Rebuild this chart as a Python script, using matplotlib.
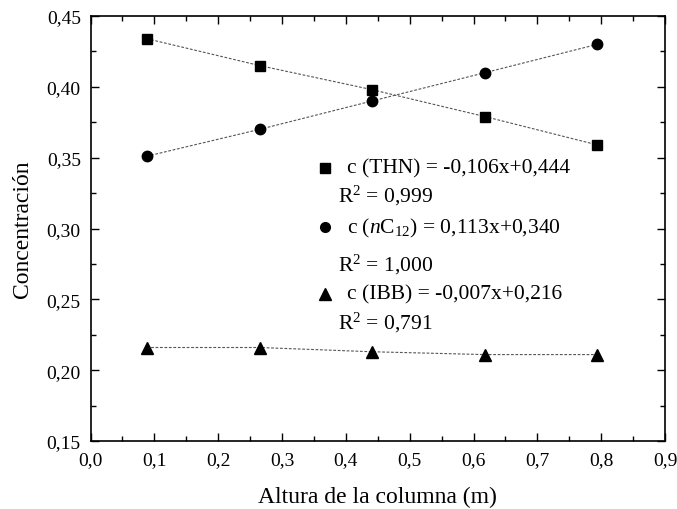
import matplotlib
matplotlib.use("Agg")
import matplotlib.pyplot as plt
from matplotlib.ticker import MultipleLocator, FuncFormatter

plt.rcParams['font.family'] = ['Liberation Serif', 'DejaVu Serif']
plt.rcParams['mathtext.fontset'] = 'custom'
plt.rcParams['mathtext.rm'] = 'Liberation Serif'
plt.rcParams['mathtext.it'] = 'Liberation Serif:italic'

altura = [0.088, 0.265, 0.441, 0.618, 0.794]
thn = [0.434, 0.415, 0.398, 0.379, 0.359]
nc12 = [0.351, 0.370, 0.390, 0.410, 0.430]
ibb = [0.216, 0.216, 0.213, 0.211, 0.211]

ecuaciones = ["c (THN) = -0,106x+0,444", "c ($n$C$_{12}$) = 0,113x+0,340", "c (IBB) = -0,007x+0,216"]
r2 = ["R$^2$ = 0,999", "R$^2$ = 1,000", "R$^2$ = 0,791"]

fig = plt.figure(figsize=(6.77, 5.10), dpi=100)
ax = fig.add_axes([90.5/677, 1-442/510, 574.5/677, 425/510])

for ys, m, ms in [(thn, 's', 7), (nc12, 'o', 7.5), (ibb, '^', 8)]:
    ax.plot(altura, ys, linestyle=(0, (2.5, 1.5)), color='#555555', linewidth=0.8, zorder=1)
    ax.plot(altura, ys, linestyle='none', marker=m, markersize=ms, color='black', zorder=2)

ax.set_xlim(0.0, 0.9)
ax.set_ylim(0.15, 0.45)
ax.xaxis.set_major_locator(MultipleLocator(0.1))
ax.xaxis.set_minor_locator(MultipleLocator(0.05))
ax.yaxis.set_major_locator(MultipleLocator(0.05))
ax.yaxis.set_minor_locator(MultipleLocator(0.025))
ax.xaxis.set_major_formatter(FuncFormatter(lambda v, p: f"{v:.1f}".replace('.', ',')))
ax.yaxis.set_major_formatter(FuncFormatter(lambda v, p: f"{v:.2f}".replace('.', ',')))
ax.tick_params(which='both', direction='in', top=True, right=True, labelsize=14, width=1.0)
ax.tick_params(which='major', length=6, pad=7)
ax.tick_params(which='minor', length=3.5)
for s in ax.spines.values():
    s.set_linewidth(1.2)

ax.set_xlabel("Altura de la columna (m)", fontsize=17, labelpad=13)
ax.set_ylabel("Concentración", fontsize=17, labelpad=10)

def fy(py):
    return 1 - py / 510

markers = ['s', 'o', '^']
eq_y = [169, 228, 295]
r_y = [196, 265, 323]
for m, e, r, yy, ry in zip(markers, ecuaciones, r2, eq_y, r_y):
    fig.lines.append(plt.Line2D([325/677], [fy(yy)], marker=m, markersize=7 if m != '^' else 8,
                                color='black', linestyle='none', transform=fig.transFigure))
    fig.text(347/677, fy(yy), e, fontsize=15.5, va='center', ha='left')
    fig.text(338/677, fy(ry), r, fontsize=15.5, va='center', ha='left')

fig.savefig("out.png", dpi=100)
